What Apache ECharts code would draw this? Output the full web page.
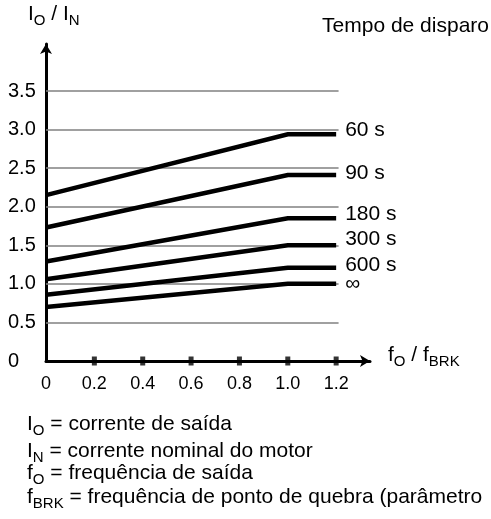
<!DOCTYPE html>
<html>
<head>
<meta charset="utf-8">
<script src="https://cdn.jsdelivr.net/npm/echarts@6/dist/echarts.min.js"></script>
<style>
html, body { margin: 0; padding: 0; background: #fff; }
#chart { width: 491px; height: 519px; }
</style>
</head>
<body>
<div id="chart"></div>
<script>
// Frequency ratio f_O / f_BRK at the curve breakpoints
const freqRatio = [0, 1.0, 1.2];
// Current ratio I_O / I_N for each trip time, at the breakpoints above
const trip60 = [2.15, 2.94, 2.94];
const trip90 = [1.73, 2.41, 2.41];
const trip180 = [1.29, 1.85, 1.85];
const trip300 = [1.06, 1.50, 1.50];
const trip600 = [0.86, 1.21, 1.21];
const tripInf = [0.70, 1.00, 1.00];
const curveNames = ['60 s', '90 s', '180 s', '300 s', '600 s', '∞'];
const curveValues = [trip60, trip90, trip180, trip300, trip600, tripInf];

// Tick values and horizontal reference levels
const xTicks = [0, 0.2, 0.4, 0.6, 0.8, 1.0, 1.2];
const yTicks = [0, 0.5, 1.0, 1.5, 2.0, 2.5, 3.0, 3.5];
const gridLevels = [0.5, 1.0, 1.5, 2.0, 2.5, 3.0, 3.5];

const FONT = "'Liberation Sans', Arial, Helvetica, sans-serif";
const GRID_END = 1.21;              // reference lines stop just past 1.2
const LABEL_SHIFT = [-4, -1.5, -4.5, -6, -2, 0];  // vertical nudge of curve names

const fmt = v => (v === 0 ? '0' : v.toFixed(1));

const sub = {
  s: { fontSize: 15, fontFamily: FONT, color: '#000', padding: [12, 0, 0, 0] }
};
function textBlock(text, pos) {
  return Object.assign({
    text: text,
    padding: 0,
    itemGap: 0,
    textStyle: { fontSize: 21, fontWeight: 'normal', fontFamily: FONT, color: '#000', rich: sub }
  }, pos);
}

const curveSeries = curveValues.map((vals, i) => ({
  type: 'line',
  name: curveNames[i],
  data: freqRatio.map((x, k) => [x, vals[k]]),
  showSymbol: false,
  symbol: 'none',
  lineStyle: { color: '#000', width: 4.5, cap: 'butt', join: 'miter' },
  z: 5,
  endLabel: {
    show: true,
    formatter: curveNames[i],
    distance: 9,
    offset: [0, LABEL_SHIFT[i]],
    fontSize: 21,
    fontFamily: FONT,
    color: '#000'
  }
}));

const chart = echarts.init(document.getElementById('chart'), null, { renderer: 'canvas' });
chart.setOption({
  animation: false,
  backgroundColor: '#fff',
  title: [
    textBlock('I{s|O} / I{s|N}', { left: 28, top: 1 }),
    textBlock('Tempo de disparo', { right: 2, top: 16 }),
    textBlock('f{s|O} / f{s|BRK}', { left: 388, top: 342 }),
    textBlock('I{s|O} = corrente de saída', { left: 27, top: 411 }),
    textBlock('I{s|N} = corrente nominal do motor', { left: 27, top: 438 }),
    textBlock('f{s|O} = frequência de saída', { left: 27, top: 460 }),
    textBlock('f{s|BRK} = frequência de ponto de quebra (parâmetro', { left: 27, top: 484 })
  ],
  grid: {
    left: 46, right: 121, top: 44, bottom: 158,
    containLabel: false, outerBoundsMode: 'none'
  },
  xAxis: {
    type: 'value',
    min: 0, max: 1.34,
    axisLine: {
      show: true, onZero: false,
      lineStyle: { color: '#000', width: 3 },
      symbol: ['none', 'arrow'], symbolSize: [9, 10]
    },
    axisTick: { show: false },
    splitLine: { show: false },
    axisLabel: {
      customValues: xTicks,
      formatter: fmt,
      fontSize: 18, fontFamily: FONT, color: '#000', margin: 14
    }
  },
  yAxis: {
    type: 'value',
    min: 0, max: 4.11,
    axisLine: {
      show: true, onZero: false,
      lineStyle: { color: '#000', width: 3 },
      symbol: ['none', 'arrow'], symbolSize: [9, 10]
    },
    axisTick: { show: false },
    splitLine: { show: false },
    axisLabel: {
      customValues: yTicks,
      formatter: fmt,
      align: 'left',
      fontSize: 20, fontFamily: FONT, color: '#000', margin: 38
    }
  },
  series: [
    {
      // horizontal reference lines
      type: 'line',
      data: [],
      silent: true,
      markLine: {
        silent: true,
        symbol: ['none', 'none'],
        label: { show: false },
        lineStyle: { color: '#808080', width: 1.5, type: 'solid' },
        data: gridLevels.map(v => [{ coord: [0, v] }, { coord: [GRID_END, v] }])
      },
      z: 1
    },
    {
      // square tick marks on the frequency axis
      type: 'scatter',
      data: xTicks.filter(x => x > 0).map(x => [x, 0]),
      symbol: 'rect',
      symbolSize: [5, 9],
      itemStyle: { color: '#000' },
      clip: false,
      silent: true,
      z: 6
    }
  ].concat(curveSeries)
});
</script>
</body>
</html>
